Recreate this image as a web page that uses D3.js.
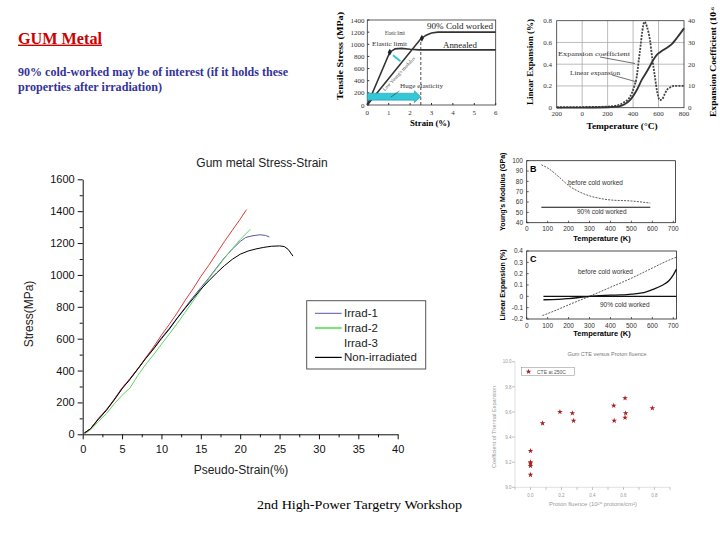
<!DOCTYPE html>
<html><head><meta charset="utf-8">
<script src="https://cdn.jsdelivr.net/npm/d3@7"></script>
<style>body{margin:0;background:#fff}svg{display:block}</style>
</head><body>
<svg id="c" width="720" height="540"></svg>
<script>
// ================= DATA =================
// slide texts
const slideTitle = "GUM Metal";
const slideBody = ["90% cold-worked may be of interest (if it holds these", "properties after irradiation)"];
const slideFooter = "2nd High-Power Targetry Workshop";

// main chart: Gum metal Stress-Strain  [strain %, stress MPa]
const mainTitle = "Gum metal Stress-Strain";
const mainSeriesNames = ["Irrad-1", "Irrad-2", "Irrad-3", "Non-irradiated"];
const mainColors = ["#5656a8", "#5fd65f", "#dd3a3a", "#000000"];
const mainXTicks = [0, 5, 10, 15, 20, 25, 30, 35, 40];
const mainYTicks = [0, 200, 400, 600, 800, 1000, 1200, 1400, 1600];
const irrad1 = [[0.2,8],[1,35],[2,95],[3,150],[4,220],[5,290],[6,345],[7,410],[8,478],[9,540],[10,605],[11,665],[12,730],[13,795],[14,860],[15,920],[16,980],[17,1045],[18,1108],[19,1162],[20,1210],[20.7,1235],[21.5,1245],[22.5,1252],[23.2,1248],[23.7,1238]];
const irrad2 = [[0.3,5],[1,28],[2,80],[3,130],[4,190],[5,245],[6,290],[7,370],[8,438],[9,500],[10,565],[11,630],[12,695],[13,765],[14,835],[15,905],[16,975],[17,1040],[18,1105],[19,1165],[20,1222],[20.8,1262],[21.3,1287]];
const irrad3 = [[0.3,8],[1,35],[2,100],[3,155],[4,218],[5,290],[6,350],[7,412],[8,480],[9,548],[10,622],[11,690],[12,762],[13,840],[14,912],[15,990],[16,1060],[17,1135],[18,1210],[19,1280],[20,1350],[20.8,1410]];
const nonIrr = [[0.2,8],[1,35],[2,95],[3,150],[4,215],[5,285],[6,345],[7,410],[8,475],[9,535],[10,600],[11,660],[12,728],[13,790],[14,850],[15,910],[16,962],[17,1012],[18,1058],[19,1098],[20,1130],[21,1150],[22,1163],[23,1173],[24,1180],[25,1182],[25.6,1178],[26.1,1160],[26.7,1118]];
const mainData = [irrad1, irrad2, irrad3, nonIrr];

// top-middle: tensile stress vs strain
const tmXTicks = [0,1,2,3,4,5,6];
const tmYTicks = [0,200,400,600,800,1000,1200,1400];
const tmCold = [[0,0],[2.5,1090],[2.75,1150],[3.0,1185],[3.3,1200],[6,1200]];
const tmAnnealed = [[0,0],[1.05,870],[1.3,925],[1.6,932],[2.0,918],[2.4,908],[6,908]];
const tmElastic = [[1.05,870],[2.55,1100]];

// top-right: linear expansion & expansion coefficient vs temperature (deg C)
const trXTicks = [-200,0,200,400,600,800];
const trYTicks = [0,0.2,0.4,0.6,0.8];
const trY2Ticks = [0,10,20,30,40];
const trLinear = [[-200,0],[0,0],[200,0.004],[280,0.01],[330,0.03],[376,0.07],[428,0.16],[470,0.26],[507,0.33],[540,0.4],[559,0.44],[590,0.49],[612,0.51],[650,0.54],[700,0.58],[750,0.65],[800,0.73]];
const trCoef = [[-200,0.2],[0,0.3],[200,0.5],[270,1],[330,2.5],[376,5],[410,10],[428,14],[445,22],[458,28],[472,35],[490,39.5],[510,37],[533,31],[550,23],[572,14],[590,7],[611,3.5],[630,4],[651,6.6],[670,8.5],[690,9.3],[720,10],[800,10]];

// panel B: Young's modulus vs temperature (K)
const bcXTicks = [0,100,200,300,400,500,600,700];
const bYTicks = [40,50,60,70,80,90,100];
const bBefore = [[70,96],[100,93],[150,85],[200,76],[250,70],[300,66],[350,63.5],[400,62],[500,61],[590,59]];
const bCold = [[70,55],[590,55]];

// panel C: linear expansion vs temperature (K)
const cYTicks = [-0.2,-0.1,0,0.1,0.2,0.3,0.4];
const cYLabels = ["-0.2","-0.1","0","0.1","0.2","0.3","0.4"];
const cBefore = [[75,-0.17],[150,-0.115],[200,-0.075],[300,0],[400,0.08],[500,0.16],[600,0.25],[700,0.335],[715,0.345]];
const cCold = [[80,-0.03],[150,-0.027],[200,-0.02],[300,0.0],[400,0.01],[450,0.012],[500,0.02],[550,0.03],[600,0.06],[650,0.1],[680,0.14],[700,0.19],[715,0.24]];
const cZero = [[80,0],[715,0]];

// bottom-right scatter: CTE vs proton fluence
const sXTicks = [0,0.2,0.4,0.6,0.8];
const sYTicks = [9.0,9.2,9.4,9.6,9.8,10.0];
const sPoints = [[0,9.29],[0,9.2],[0,9.19],[0,9.17],[0,9.1],[0.078,9.51],[0.19,9.6],[0.27,9.59],[0.278,9.53],[0.537,9.65],[0.54,9.53],[0.61,9.71],[0.614,9.59],[0.61,9.555],[0.786,9.63]];

// ================= DRAWING =================
const svg = d3.select("#c");
const SANS = "'Liberation Sans', Arial, sans-serif";
const SERIF = "'Liberation Serif', 'Times New Roman', serif";

function txt(g, x, y, s, o = {}) {
  const t = g.append("text").attr("x", x).attr("y", y).text(s)
    .attr("font-family", o.ff || SANS).attr("font-size", o.fs || 10)
    .attr("fill", o.fill || "#000");
  if (o.fw) t.attr("font-weight", o.fw);
  if (o.anchor) t.attr("text-anchor", o.anchor);
  if (o.len) t.attr("textLength", o.len).attr("lengthAdjust", "spacingAndGlyphs");
  if (o.rot) t.attr("transform", `rotate(${o.rot},${x},${y})`);
  return t;
}

// ---- slide text
txt(svg, 18, 43.5, slideTitle, {ff: SERIF, fs: 16, fw: "bold", fill: "#cc0000", len: 84});
svg.append("rect").attr("x", 18).attr("y", 44.6).attr("width", 84).attr("height", 1.4).attr("fill", "#cc0000");
txt(svg, 18, 76, slideBody[0], {ff: SERIF, fs: 11.5, fw: "bold", fill: "#333399", len: 270});
txt(svg, 18, 90.5, slideBody[1], {ff: SERIF, fs: 11.5, fw: "bold", fill: "#333399", len: 144});
txt(svg, 257, 509, slideFooter, {ff: SERIF, fs: 13.5, len: 205});

// ---- main chart
(function () {
  const g = svg.append("g");
  const x = d3.scaleLinear([0, 40], [82.7, 397.7]);
  const y = d3.scaleLinear([0, 1600], [434.3, 179.3]);
  g.append("g").attr("transform", `translate(0,${y(0)})`)
    .call(d3.axisBottom(x).tickValues(mainXTicks).tickFormat(d3.format("d")).tickSize(5).tickSizeOuter(0).tickPadding(6));
  g.append("g").attr("transform", `translate(0,${y(0)})`)
    .call(d3.axisBottom(x).tickValues(d3.range(2.5, 40, 5)).tickSize(3).tickFormat("").tickSizeOuter(0))
    .select(".domain").remove();
  g.append("g").attr("transform", `translate(${x(0)},0)`)
    .call(d3.axisLeft(y).tickValues(mainYTicks).tickFormat(d3.format("d")).tickSize(5).tickSizeOuter(0).tickPadding(3));
  g.append("g").attr("transform", `translate(${x(0)},0)`)
    .call(d3.axisLeft(y).tickValues(d3.range(100, 1600, 200)).tickSize(3).tickFormat("").tickSizeOuter(0))
    .select(".domain").remove();
  g.selectAll(".tick text").attr("font-family", SANS).attr("font-size", 11).attr("fill", "#111");
  g.selectAll(".domain, .tick line").attr("stroke", "#111");

  const line = d3.line().x(d => x(d[0])).y(d => y(d[1]));
  mainData.forEach((s, i) => {
    g.append("path").attr("d", line(s)).attr("fill", "none")
      .attr("stroke", mainColors[i]).attr("stroke-width", 1);
  });
  txt(g, 262, 167, mainTitle, {fs: 12, anchor: "middle", fill: "#222"});
  txt(g, 241, 474, "Pseudo-Strain(%)", {fs: 12, anchor: "middle", fill: "#222"});
  txt(g, 33, 314, "Stress(MPa)", {fs: 12, anchor: "middle", fill: "#222", rot: -90});

  // legend
  g.append("rect").attr("x", 306.7).attr("y", 300.7).attr("width", 119).attr("height", 68.3)
    .attr("fill", "#fff").attr("stroke", "#555").attr("stroke-width", 1);
  const legW = [1, 2.2, 0, 1.2];
  mainSeriesNames.forEach((n, i) => {
    const ly = 313.3 + i * 14.7;
    if (legW[i] > 0)
      g.append("line").attr("x1", 315).attr("x2", 341.7).attr("y1", ly).attr("y2", ly)
        .attr("stroke", i === 1 ? "#80e080" : mainColors[i]).attr("stroke-width", legW[i]);
    txt(g, 344, ly + 4, n, {fs: 11.5, fill: "#222"});
  });
})();

// ---- top-middle: tensile stress vs strain
(function () {
  const g = svg.append("g");
  const x = d3.scaleLinear([0, 6], [367.3, 495.7]);
  const y = d3.scaleLinear([0, 1400], [105, 20]);
  g.append("rect").attr("x", x(0)).attr("y", y(1400)).attr("width", x(6) - x(0)).attr("height", y(0) - y(1400))
    .attr("fill", "none").attr("stroke", "#333").attr("stroke-width", 0.8);
  tmYTicks.forEach(v => {
    g.append("line").attr("x1", x(0)).attr("x2", x(0) + 2).attr("y1", y(v)).attr("y2", y(v)).attr("stroke", "#333");
    txt(g, 364.5, y(v) + 2.5, v, {ff: SERIF, fs: 7, anchor: "end", fill: "#333"});
  });
  tmXTicks.forEach(v => {
    g.append("line").attr("x1", x(v)).attr("x2", x(v)).attr("y1", y(0)).attr("y2", y(0) - 2).attr("stroke", "#333");
    txt(g, x(v), 115, v, {ff: SERIF, fs: 7, anchor: "middle", fill: "#333"});
  });
  txt(g, 430, 126, "Strain (%)", {ff: SERIF, fs: 8, fw: "bold", anchor: "middle", len: 40});
  txt(g, 343, 56, "Tensile Stress (MPa)", {ff: SERIF, fs: 8, fw: "bold", anchor: "middle", rot: -90, len: 88});
  const line = d3.line().x(d => x(d[0])).y(d => y(d[1]));
  g.append("line").attr("x1", x(2.5)).attr("x2", x(2.5)).attr("y1", y(0)).attr("y2", y(1100))
    .attr("stroke", "#222").attr("stroke-dasharray", "3,2").attr("stroke-width", 0.8);
  g.append("path").attr("d", line(tmCold)).attr("fill", "none").attr("stroke", "#333").attr("stroke-width", 1.6);
  g.append("path").attr("d", line(tmAnnealed)).attr("fill", "none").attr("stroke", "#333").attr("stroke-width", 1.6);
  tmElastic.forEach(p => {
    g.append("path").attr("d", d3.symbol(d3.symbolDiamond, 14)()).attr("transform", `translate(${x(p[0])},${y(p[1])})`).attr("fill", "#222");
  });
  const ay = y(137);
  const pts = [[x(0), ay - 3.5], [x(2.2), ay - 3.5], [x(2.2), ay - 6], [x(2.5), ay], [x(2.2), ay + 6], [x(2.2), ay + 3.5], [x(0), ay + 3.5]];
  g.append("polygon").attr("points", pts.map(p => p.join(",")).join(" ")).attr("fill", "#33c8d8").attr("stroke", "#1a8a99").attr("stroke-width", 0.5);
  g.append("line").attr("x1", x(1.55)).attr("y1", y(720)).attr("x2", x(1.2)).attr("y2", y(820))
    .attr("stroke", "#33c8d8").attr("stroke-width", 2);
  g.append("line").attr("x1", x(1.1)).attr("y1", y(130)).attr("x2", x(1.5)).attr("y2", y(230))
    .attr("stroke", "#333").attr("stroke-width", 0.6);
  txt(g, 427, 29, "90% Cold worked", {ff: SERIF, fs: 8, fill: "#222", len: 66});
  txt(g, 443, 47.5, "Annealed", {ff: SERIF, fs: 8, fill: "#222", len: 34});
  txt(g, 385, 35, "Elastic limit", {ff: SERIF, fs: 6, fill: "#333", len: 20});
  txt(g, 372, 46, "Elastic limit", {ff: SERIF, fs: 6.5, fill: "#333", len: 35});
  txt(g, 400, 88, "Huge elasticity", {ff: SERIF, fs: 6.5, fill: "#333", len: 43});
  txt(g, 400, 75, "Low Young's modulus", {ff: SERIF, fs: 5, fill: "#444", anchor: "middle", rot: -47});
})();

// ---- top-right: linear expansion
(function () {
  const g = svg.append("g");
  const x = d3.scaleLinear([-200, 800], [556.7, 684]);
  const y = d3.scaleLinear([0, 0.8], [107.7, 20.7]);
  const y2 = d3.scaleLinear([0, 40], [107.7, 20.7]);
  trXTicks.slice(1, -1).forEach(v => g.append("line").attr("x1", x(v)).attr("x2", x(v)).attr("y1", y(0)).attr("y2", y(0.8)).attr("stroke", "#aaa").attr("stroke-width", 0.8));
  trYTicks.slice(1, -1).forEach(v => g.append("line").attr("x1", x(-200)).attr("x2", x(800)).attr("y1", y(v)).attr("y2", y(v)).attr("stroke", "#aaa").attr("stroke-width", 0.8));
  g.append("rect").attr("x", x(-200)).attr("y", y(0.8)).attr("width", x(800) - x(-200)).attr("height", y(0) - y(0.8))
    .attr("fill", "none").attr("stroke", "#333").attr("stroke-width", 0.8);
  trXTicks.forEach(v => txt(g, x(v), 115.5, v < 0 ? -v : v, {ff: SERIF, fs: 7, anchor: "middle", fill: "#333"}));
  trYTicks.forEach(v => txt(g, 552, y(v) + 2.5, v === 0 ? "0" : v.toFixed(1), {ff: SERIF, fs: 7, anchor: "end", fill: "#333"}));
  trY2Ticks.forEach(v => txt(g, 688, y2(v) + 2.5, v, {ff: SERIF, fs: 7, fill: "#333"}));
  const line2 = d3.line().x(d => x(d[0])).y(d => y2(d[1])).curve(d3.curveMonotoneX);
  g.append("path").attr("d", line2(trCoef)).attr("fill", "none").attr("stroke", "#444").attr("stroke-width", 1.8).attr("stroke-dasharray", "2,1.2");
  g.append("path").attr("d", d3.line().x(d => x(d[0])).y(d => y(d[1])).curve(d3.curveMonotoneX)(trLinear)).attr("fill", "none").attr("stroke", "#333").attr("stroke-width", 1.8);
  g.append("line").attr("x1", 600).attr("y1", 57).attr("x2", 635).attr("y2", 63.5).attr("stroke", "#333").attr("stroke-width", 0.7);
  g.append("line").attr("x1", 612).attr("y1", 75).attr("x2", 637).attr("y2", 82).attr("stroke", "#333").attr("stroke-width", 0.7);
  txt(g, 558, 56, "Expansion coefficient", {ff: SERIF, fs: 7, fill: "#333", len: 72});
  txt(g, 570, 74.5, "Linear expansion", {ff: SERIF, fs: 7, fill: "#333", len: 50});
  txt(g, 622, 129, "Temperature (°C)", {ff: SERIF, fs: 8, fw: "bold", anchor: "middle", len: 71});
  txt(g, 533, 62, "Linear Expansion (%)", {ff: SERIF, fs: 8, fw: "bold", anchor: "middle", rot: -90, len: 86});
  txt(g, 716, 62, "Expansion Coefficient (10", {ff: SERIF, fs: 8, fw: "bold", anchor: "middle", rot: -90, len: 110})
    .append("tspan").attr("baseline-shift", "super").attr("font-size", 5).text("-6");
})();

// ---- panel B & C helper
function panel(yDomain, yRange, yTicks, yLabels, xMax, letter, ylabel, tBaseline, drawFn) {
  const g = svg.append("g");
  const x = d3.scaleLinear([0, 700], [526.7, 673.3]);
  const y = d3.scaleLinear(yDomain, yRange);
  g.append("rect").attr("x", x(0)).attr("y", yRange[1]).attr("width", x(xMax) - x(0)).attr("height", yRange[0] - yRange[1])
    .attr("fill", "none").attr("stroke", "#222").attr("stroke-width", 0.8);
  yTicks.forEach((v, i) => {
    g.append("line").attr("x1", x(0)).attr("x2", x(0) + 2).attr("y1", y(v)).attr("y2", y(v)).attr("stroke", "#222").attr("stroke-width", 0.7);
    txt(g, 523, y(v) + 2.4, yLabels[i], {fs: 6.5, anchor: "end", fill: "#333"});
  });
  bcXTicks.forEach(v => {
    g.append("line").attr("x1", x(v)).attr("x2", x(v)).attr("y1", yRange[0]).attr("y2", yRange[0] - 2).attr("stroke", "#222").attr("stroke-width", 0.7);
    txt(g, x(v), yRange[0] + 8.5, v, {fs: 6.5, anchor: "middle", fill: "#333"});
  });
  txt(g, 530, yRange[1] + 11, letter, {fs: 9, fw: "bold"});
  txt(g, 602, tBaseline, "Temperature (K)", {fs: 7.5, fw: "bold", anchor: "middle"});
  txt(g, 505, (yRange[0] + yRange[1]) / 2, ylabel, {fs: 7, fw: "bold", anchor: "middle", rot: -90});
  drawFn(g, x, y);
}
panel([40, 100], [222.7, 160.7], bYTicks, bYTicks.map(String), 710, "B", "Young's Modulus (GPa)", 241, (g, x, y) => {
  const line = d3.line().x(d => x(d[0])).y(d => y(d[1])).curve(d3.curveMonotoneX);
  g.append("path").attr("d", line(bBefore)).attr("fill", "none").attr("stroke", "#333").attr("stroke-width", 0.8).attr("stroke-dasharray", "2,1.2");
  g.append("path").attr("d", line(bCold)).attr("fill", "none").attr("stroke", "#111").attr("stroke-width", 1.1);
  txt(g, 568, 184.5, "before cold worked", {fs: 6.5, fill: "#333"});
  txt(g, 577, 214, "90% cold worked", {fs: 6.5, fill: "#333"});
});
panel([-0.2, 0.4], [319, 251], cYTicks, cYLabels, 715, "C", "Linear Expansion (%)", 336, (g, x, y) => {
  const line = d3.line().x(d => x(d[0])).y(d => y(d[1])).curve(d3.curveMonotoneX);
  g.append("path").attr("d", line(cBefore)).attr("fill", "none").attr("stroke", "#333").attr("stroke-width", 0.8).attr("stroke-dasharray", "2,1.2");
  g.append("path").attr("d", line(cZero)).attr("fill", "none").attr("stroke", "#111").attr("stroke-width", 1.3);
  g.append("path").attr("d", line(cCold)).attr("fill", "none").attr("stroke", "#111").attr("stroke-width", 1.3);
  txt(g, 578, 274, "before cold worked", {fs: 6.5, fill: "#333"});
  txt(g, 600, 307, "90% cold worked", {fs: 6.5, fill: "#333"});
});

// ---- bottom-right scatter
(function () {
  const g = svg.append("g");
  const x = d3.scaleLinear([-0.1, 0.9], [515, 670]);
  const y = d3.scaleLinear([9.0, 10.0], [487.3, 361.7]);
  const c = "#999";
  g.append("line").attr("x1", x(-0.1)).attr("x2", x(-0.1)).attr("y1", y(9)).attr("y2", y(10)).attr("stroke", "#ccc").attr("stroke-width", 0.6);
  g.append("line").attr("x1", x(-0.1)).attr("x2", x(0.9)).attr("y1", y(9)).attr("y2", y(9)).attr("stroke", "#ccc").attr("stroke-width", 0.6);
  sYTicks.forEach(v => {
    g.append("line").attr("x1", x(-0.1) - 3).attr("x2", x(-0.1)).attr("y1", y(v)).attr("y2", y(v)).attr("stroke", c).attr("stroke-width", 0.6);
    txt(g, 511.5, y(v) + 1.7, v.toFixed(1), {fs: 4.5, anchor: "end", fill: c});
  });
  d3.range(-0.1, 0.95, 0.1).forEach(v => g.append("line").attr("x1", x(v)).attr("x2", x(v)).attr("y1", y(9)).attr("y2", y(9) + 2.5).attr("stroke", c).attr("stroke-width", 0.6));
  sXTicks.forEach(v => txt(g, x(v), 496.5, v.toFixed(1), {fs: 4.5, anchor: "middle", fill: c}));
  txt(g, 607, 356, "Gum CTE versus Proton fluence", {fs: 5.5, anchor: "middle", fill: "#777"});
  txt(g, 593, 505.5, "Proton fluence (10²⁰ protons/cm²)", {fs: 4.8, anchor: "middle", fill: c, len: 88});
  txt(g, 496, 427, "Coefficient of Thermal Expansion", {fs: 5, anchor: "middle", fill: c, rot: -90, len: 82});
  const star = d3.symbol(d3.symbolStar, 10);
  sPoints.forEach(p => g.append("path").attr("d", star()).attr("transform", `translate(${x(p[0])},${y(p[1])})`).attr("fill", "#a52020"));
  g.append("rect").attr("x", 521.7).attr("y", 367.7).attr("width", 52.6).attr("height", 8).attr("fill", "none").attr("stroke", "#888").attr("stroke-width", 0.5);
  g.append("path").attr("d", star()).attr("transform", "translate(528.5,371.7)").attr("fill", "#a52020");
  txt(g, 537, 373.6, "CTE at 250C", {fs: 5, fill: "#555"});
})();
</script>
</body></html>
